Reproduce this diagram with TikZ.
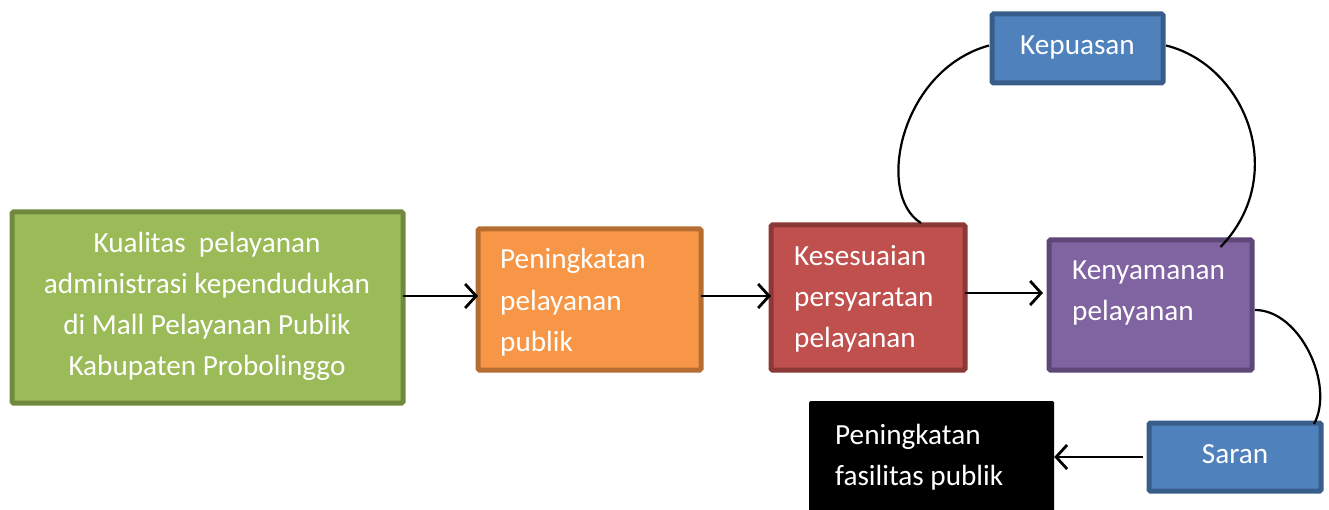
\documentclass[tikz,border=0pt]{standalone}
\usepackage{fontspec}
\setmainfont{Carlito}
\usetikzlibrary{arrows.meta,calc}
\definecolor{gfill}{HTML}{9BBB59}\definecolor{gdraw}{HTML}{71893F}
\definecolor{ofill}{HTML}{F79646}\definecolor{odraw}{HTML}{B66D31}
\definecolor{rfill}{HTML}{C0504D}\definecolor{rdraw}{HTML}{8C3836}
\definecolor{pfill}{HTML}{8064A2}\definecolor{pdraw}{HTML}{5C4776}
\definecolor{bfill}{HTML}{4F81BD}\definecolor{bdraw}{HTML}{385D8A}
\tikzset{
  box/.style={rectangle, rounded corners=1.5pt, line width=5pt, inner sep=0pt, outer sep=0pt},
  txt/.style={text=white, inner sep=0pt, font=\fontsize{29.2}{41}\selectfont},
  arr/.style={line width=2.8pt, -{Straight Barb[length=11pt,width=24pt,line width=2.8pt]}},
  crv/.style={line width=2.2pt}
}
\begin{document}
\begin{tikzpicture}[x=1pt,y=-1pt]
\useasboundingbox (0,0) rectangle (1329,510);
% boxes
\node[box, draw=gdraw, fill=gfill, minimum width=391pt, minimum height=191pt] (green) at (207.5,307.5) {};
\node[box, draw=odraw, fill=ofill, minimum width=223pt, minimum height=141pt] (orange) at (589.5,299.5) {};
\node[box, draw=rdraw, fill=rfill, minimum width=194pt, minimum height=145pt] (red) at (868,297.5) {};
\node[box, draw=pdraw, fill=pfill, minimum width=203pt, minimum height=130pt] (purple) at (1150.5,305) {};
\node[box, draw=bdraw, fill=bfill, minimum width=171pt, minimum height=69pt] (kep) at (1077.5,48.5) {};
\node[box, draw=bdraw, fill=bfill, minimum width=172pt, minimum height=68pt] (saran) at (1235,457) {};
\node[rectangle, rounded corners=1.5pt, fill=black, inner sep=0pt, minimum width=245pt, minimum height=112pt] (blk) at (931.5,457) {};
% texts (base anchor = baseline of last line)
\node[txt, align=center, anchor=base] (tg) at (207,375) {Kualitas\ \ pelayanan\\administrasi kependudukan\\di Mall Pelayanan Publik\\Kabupaten Probolinggo};
\node[txt, align=left, anchor=base west] (to) at (500,351) {Peningkatan\\pelayanan\\publik};
\node[txt, align=left, anchor=base west] (tr) at (794,347) {Kesesuaian\\persyaratan\\pelayanan};
\node[txt, align=left, anchor=base west] (tp) at (1072,320) {Kenyamanan\\pelayanan};
\node[txt, anchor=base] (tk) at (1077.5,55) {Kepuasan};
\node[txt, anchor=base] (ts) at (1235,463) {Saran};
\node[txt, align=left, anchor=base west] (tb) at (835,485) {Peningkatan\\fasilitas publik};
% arrows
\draw[arr] (green.east |- 0,296) -- (orange.west |- 0,296);
\draw[arr] (orange.east |- 0,296) -- (red.west |- 0,296);
\draw[arr] (red.east |- 0,293) -- ([xshift=-6pt]purple.west |- 0,293);
\draw[arr] ([xshift=-6pt]saran.west) -- (blk.east |- 0,457);
% curves
\draw[crv] ([xshift=53pt,yshift=2pt]red.north) .. controls (875,195) and (900,70) .. ([xshift=-3pt,yshift=3pt]kep.west);
\draw[crv] ([xshift=3pt,yshift=3pt]kep.east) .. controls (1245,65) and (1290,175) .. ([xshift=70pt,yshift=-7pt]purple.north);
\draw[crv] ([xshift=3pt,yshift=-5pt]purple.east) .. controls (1300,310) and (1335,385) .. ([xshift=-7pt,yshift=-1pt]saran.north east);
\end{tikzpicture}
\end{document}
